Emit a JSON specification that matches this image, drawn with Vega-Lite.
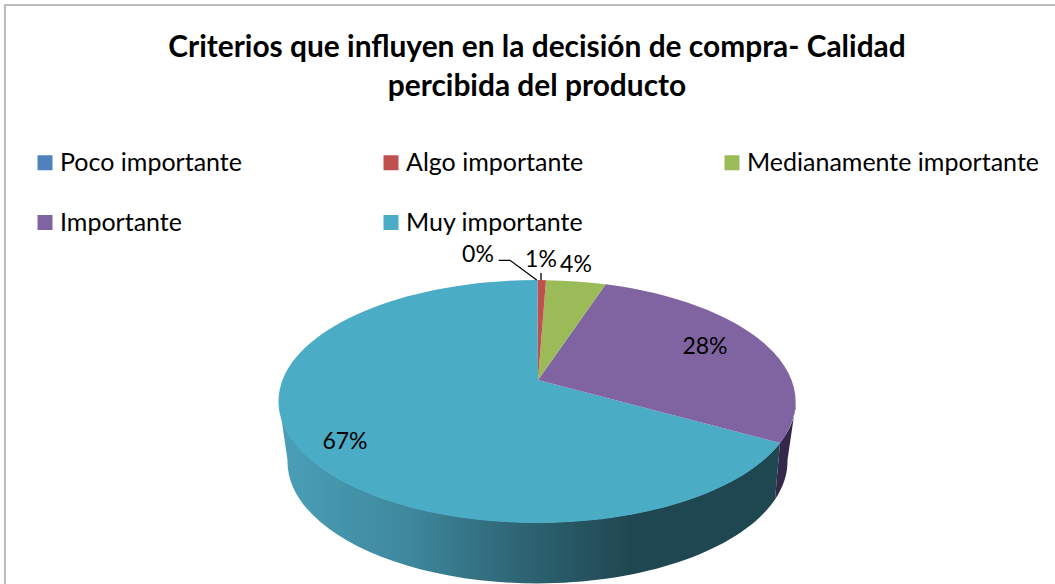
{
"$schema":"https://vega.github.io/schema/vega-lite/v6.json",
"width":1052,"height":582,
"autosize":{"type":"none"},
"padding":{"left":5,"top":5,"right":0,"bottom":0},
"background":"white",
"view":{"stroke":"#a6a6a6","strokeWidth":1.5,"fill":"white"},
"title":{"text":["Criterios que influyen en la decisión de compra- Calidad","percibida del producto"],"anchor":"start","frame":"group","align":"center","dx":532,"dy":125,"font":"Lato","fontSize":29.9,"fontWeight":"bold","color":"#000000","lineHeight":39,"baseline":"alphabetic"},
"data":{"values":[
{"criterio":"Poco importante","valor":0.0},
{"criterio":"Algo importante","valor":0.01},
{"criterio":"Medianamente importante","valor":0.04},
{"criterio":"Importante","valor":0.28},
{"criterio":"Muy importante","valor":0.67}
]},
"encoding":{
  "color":{"field":"criterio","type":"nominal","sort":null,
   "scale":{"domain":["Poco importante","Algo importante","Medianamente importante","Importante","Muy importante"],"range":["#4F81BD","#C0504D","#9BBB59","#8064A2","#4BACC6"]},
   "legend":{"title":null,"orient":"none","direction":"horizontal","legendX":27.5,"legendY":145,"columns":3,"symbolType":"square","symbolSize":225,"symbolOpacity":1,"symbolStrokeWidth":0,"labelFont":"Lato","labelFontSize":25,"labelColor":"#000000","labelOffset":2.5,"labelLimit":400,"columnPadding":136,"rowPadding":34,"padding":0}}
},
"layer":[
{"transform":[{"filter":"datum.criterio === 'Muy importante'"}],
 "encoding":{"color":{"value":{"gradient":"linear","x1":0,"y1":0,"x2":1,"y2":0,"stops":[{"offset":0,"color":"#4a9fb8"},{"offset":0.25,"color":"#3f899e"},{"offset":0.45,"color":"#30697a"},{"offset":0.7,"color":"#1f4751"},{"offset":1,"color":"#1f4751"}]}}},
 "mark":{"type":"point","filled":true,"size":1000000,"opacity":1,"shape":"M -0.504 0.212 L -0.487 0.328 A 0.5 0.244 0 0 0 0.488 0.407 L 0.498 0.294 A 0.517 0.243 0 0 1 -0.504 0.212 Z"}},
{"transform":[{"filter":"datum.criterio === 'Importante'"}],
 "encoding":{"color":{"value":"#34284a"}},
 "mark":{"type":"point","filled":true,"size":1000000,"opacity":1,"shape":"M 0.498 0.294 L 0.488 0.407 A 0.5 0.244 0 0 0 0.513 0.328 L 0.53 0.212 A 0.517 0.243 0 0 1 0.498 0.294 Z"}},
{"transform":[{"filter":"datum.criterio === 'Muy importante'"}],
 "mark":{"type":"point","filled":true,"size":1000000,"opacity":1,"shape":"M 0.014 0.168 L 0.498 0.294 A 0.517 0.243 0 1 1 0.0124 -0.032 Z"}},
{"transform":[{"filter":"datum.criterio === 'Importante'"}],
 "mark":{"type":"point","filled":true,"size":1000000,"opacity":1,"shape":"M 0.014 0.168 L 0.1494 -0.0234 A 0.517 0.243 0 0 1 0.498 0.294 Z"}},
{"transform":[{"filter":"datum.criterio === 'Medianamente importante'"}],
 "mark":{"type":"point","filled":true,"size":1000000,"opacity":1,"shape":"M 0.014 0.168 L 0.03 -0.0316 A 0.517 0.243 0 0 1 0.1494 -0.0234 Z"}},
{"transform":[{"filter":"datum.criterio === 'Algo importante'"}],
 "mark":{"type":"point","filled":true,"size":1000000,"opacity":1,"shape":"M 0.014 0.168 L 0.0134 -0.032 A 0.517 0.243 0 0 1 0.03 -0.0316 Z"}},
{"transform":[{"filter":"datum.criterio === 'Poco importante'"}],
 "mark":{"type":"point","filled":true,"size":1000000,"opacity":1,"shape":"M 0.014 0.168 L 0.0124 -0.032 L 0.0134 -0.032 Z"}},
{"transform":[{"filter":"datum.criterio === 'Poco importante'"}],
 "encoding":{"color":{"value":"#000000"}},
 "mark":{"type":"point","filled":false,"size":1000000,"opacity":1,"strokeWidth":1.3,"shape":"M -0.0646 -0.0714 L -0.042 -0.0714 L 0.0114 -0.032"}},
{"transform":[{"filter":"datum.criterio === 'Algo importante'"}],
 "encoding":{"color":{"value":"#000000"}},
 "mark":{"type":"point","filled":false,"size":1000000,"opacity":1,"strokeWidth":1.3,"shape":"M 0.02 -0.046 L 0.02 -0.032"}},
{"mark":{"type":"text","font":"Lato","fontSize":23,"align":"center","baseline":"middle"},
 "encoding":{
  "color":{"value":"#000000"},
  "text":{"field":"valor","type":"quantitative","format":".0%"},
  "x":{"field":"valor","type":"quantitative","axis":null,"scale":{"domain":[0,0.01,0.04,0.28,0.67],"range":[473,536,571,700,340],"nice":false,"zero":false}},
  "y":{"field":"valor","type":"quantitative","axis":null,"scale":{"domain":[0,0.01,0.04,0.28,0.67],"range":[250,255,260,342,437],"nice":false,"zero":false}}
 }}
]
}
